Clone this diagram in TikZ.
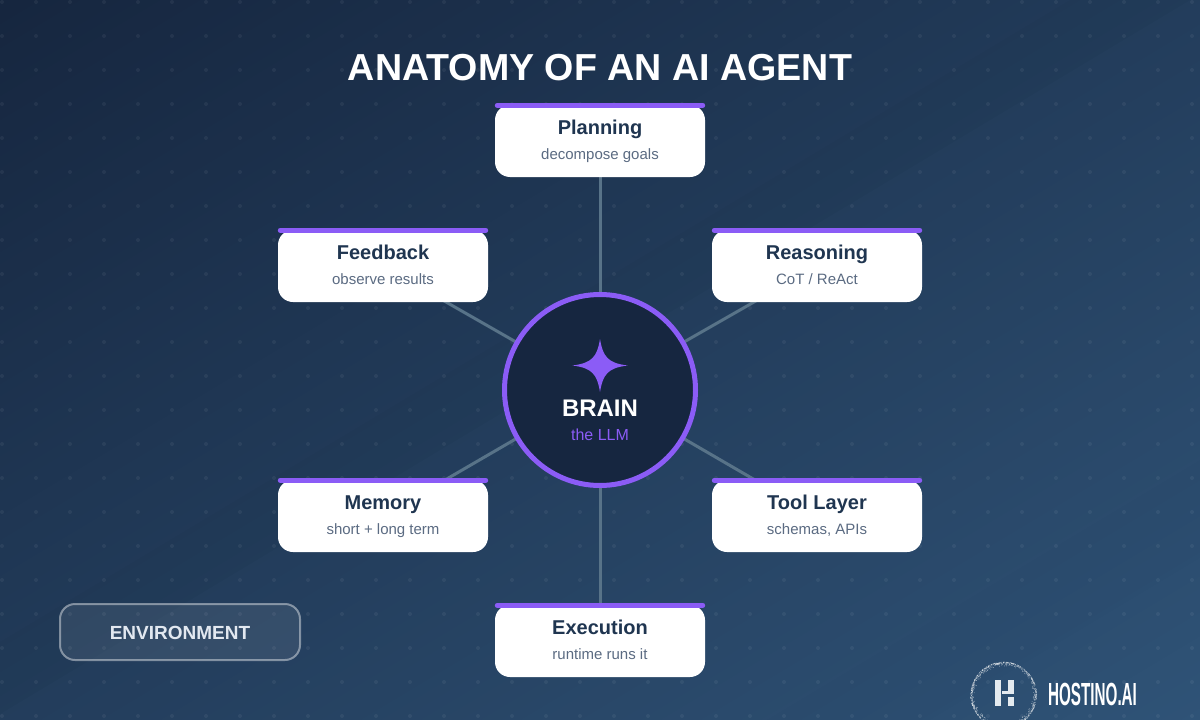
\documentclass[tikz,border=0pt]{standalone}
\usepackage{fontspec}
\setmainfont{Liberation Sans}
\definecolor{accent}{HTML}{8B5CF6}
\definecolor{navy}{HTML}{1F3550}
\definecolor{slatetxt}{HTML}{5B6B82}
\definecolor{spoke}{HTML}{587388}
\definecolor{bgA}{HTML}{16263F}
\definecolor{bgB}{HTML}{2E5276}
\definecolor{core}{HTML}{162640}
\definecolor{envtxt}{HTML}{E2E8F0}
\definecolor{logoH}{HTML}{E4EAEF}
\pgfdeclarelayer{back}
\pgfsetlayers{back,main}
\tikzset{
  card/.style={fill=white,rounded corners=15pt,minimum width=210pt,minimum height=72pt,inner sep=0pt},
  topbar/.style={draw=accent,line width=5pt,line cap=round,shorten <=2.5pt,shorten >=2.5pt},
  spokeline/.style={draw=spoke,line width=3pt},
  cardtitle/.style={anchor=base,font=\fontsize{20}{24}\selectfont\bfseries,text=navy,inner sep=0pt},
  cardsub/.style={anchor=base,font=\fontsize{15}{18}\selectfont,text=slatetxt,inner sep=0pt},
}
\newcommand{\halfplane}[1]{(#1+1000,-600) -- (#1-2000,1200) -- (5000,1200) -- (5000,-600) -- cycle}
\begin{document}
\begin{tikzpicture}[x=1pt,y=-1pt]
\useasboundingbox (0,0) rectangle (1200,720);
\clip (0,0) rectangle (1200,720);
\begin{pgfonlayer}{back}
% background gradient: iso-lines run along the anti-diagonal
\fill[bgA] (0,0) rectangle (1200,720);
\foreach \c in {0,20,...,2400}{
  \pgfmathsetmacro{\pct}{\c/24}
  \fill[bgB!\pct!bgA] \halfplane{\c};
}
% faint diagonal bands
\fill[black,opacity=.012] (1070+1000,-600) -- (1070-2000,1200) -- (1190-2000,1200) -- (1190+1000,-600) -- cycle;
\fill[white,opacity=.008] \halfplane{1190};
\fill[black,opacity=.006] \halfplane{1967};
\fill[white,opacity=.006] \halfplane{2130};
% dot grid
\foreach \i in {0,...,35} \foreach \j in {0,...,21}
  \fill[white,opacity=.055] ({2+34*\i},{2+34*\j}) circle (2pt);
\end{pgfonlayer}
% cards
\node[card] (planning) at (600,141) {};
\node[card] (feedback) at (383,266) {};
\node[card] (reasoning) at (817,266) {};
\node[card] (memory) at (383,516) {};
\node[card] (toollayer) at (817,516) {};
\node[card] (execution) at (600,641) {};
% brain
\node[circle,fill=core,draw=accent,line width=5pt,minimum size=191pt,inner sep=0pt] (brain) at (600,390) {};
\begin{pgfonlayer}{back}
\foreach \n in {planning,feedback,reasoning,memory,toollayer,execution}
  \draw[spokeline] (brain.center) -- (\n.center);
\end{pgfonlayer}
\foreach \n in {planning,feedback,reasoning,memory,toollayer,execution}
  \draw[topbar] ([yshift=-.5pt]\n.north west) -- ([yshift=-.5pt]\n.north east);
\node[cardtitle] (t1) at (600,134) {Planning};
\node[cardsub] (s1) at (600,159) {decompose goals};
\node[cardtitle] (t2) at (383,259) {Feedback};
\node[cardsub] (s2) at (383,284) {observe results};
\node[cardtitle] (t3) at (817,259) {Reasoning};
\node[cardsub] (s3) at (817,284) {CoT / ReAct};
\node[cardtitle] (t4) at (383,509) {Memory};
\node[cardsub] (s4) at (383,534) {short + long term};
\node[cardtitle] (t5) at (817,509) {Tool Layer};
\node[cardsub] (s5) at (817,534) {schemas, APIs};
\node[cardtitle] (t6) at (600,634) {Execution};
\node[cardsub] (s6) at (600,659) {runtime runs it};
% star
\fill[accent] (600,339) .. controls (603,357) and (608,363) .. (627.5,365.5)
  .. controls (608,368) and (603,374) .. (600,392)
  .. controls (597,374) and (592,368) .. (572.5,365.5)
  .. controls (592,363) and (597,357) .. (600,339) -- cycle;
\node[anchor=base,font=\fontsize{24}{30}\selectfont\bfseries,text=white,inner sep=0pt] (brainname) at (600,416) {BRAIN};
\node[anchor=base,font=\fontsize{16}{20}\selectfont,text=accent,inner sep=0pt] (brainsub) at (600,440) {the LLM};
% title
\node[anchor=base,font=\fontsize{37.6}{44}\selectfont\bfseries,text=white,inner sep=0pt] (title) at (600,80.5) {ANATOMY OF AN AI AGENT};
% environment
\node[rounded corners=15pt,minimum width=240pt,minimum height=56pt,fill=white,fill opacity=.08,draw=white,draw opacity=.42,line width=2pt,inner sep=0pt] (envbox) at (180,632) {};
\node[anchor=base,font=\fontsize{19}{24}\selectfont\bfseries,text=envtxt,inner sep=0pt] (envtext) at (180,639) {ENVIRONMENT};
% logo: stippled ring
\pgfmathsetseed{7}
\foreach \k in {1,...,900}{
  \pgfmathsetmacro{\ang}{360*rnd}
  \pgfmathsetmacro{\rad}{33-4.5*rnd*rnd}
  \fill[white,opacity=.55] ({1003.7+\rad*cos(\ang)},{695+\rad*sin(\ang)}) circle (.42pt);
}
\fill[logoH] (994.5,680) rectangle (1000.5,706);
\fill[logoH] (1008,680) rectangle (1014,694);
\fill[logoH] (1002,690.5) rectangle (1014,694);
\fill[logoH] (1008,696.5) rectangle (1014,706);
\node[anchor=base west,font=\fontsize{32}{32}\selectfont\bfseries,text=white,inner sep=0pt,xscale=.476,transform shape] (logotext) at (1048,705.5) {HOSTINO.AI};
\end{tikzpicture}
\end{document}
